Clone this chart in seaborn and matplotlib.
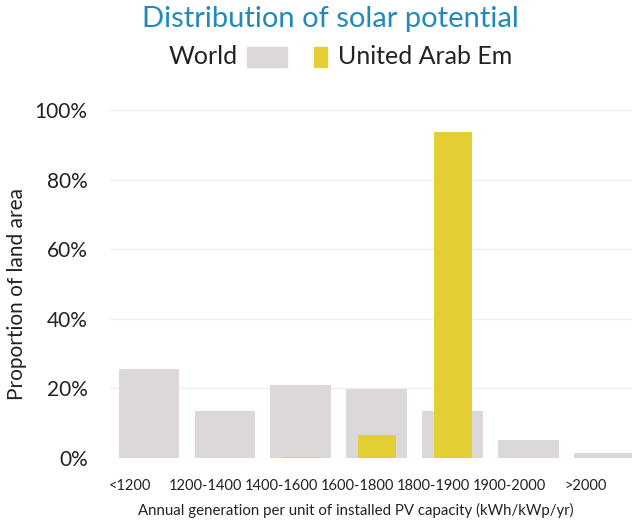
import numpy as np
import pandas as pd
import matplotlib
matplotlib.use("Agg")
import matplotlib.pyplot as plt
from matplotlib.patches import Rectangle
from matplotlib.ticker import PercentFormatter
from matplotlib.transforms import ScaledTranslation
import seaborn as sns

# Data
categories = ['<1200', '1200-1400', '1400-1600', '1600-1800', '1800-1900', '1900-2000', '>2000']
world = [25.6, 13.5, 21.0, 19.8, 13.4, 5.2, 1.4]
uae = [0.0, 0.0, 0.3, 6.6, 93.7, 0.0, 0.0]

df = pd.DataFrame({'bin': categories, 'World': world, 'UAE': uae})

sns.set_style('white')
plt.rcParams['font.family'] = ['Lato', 'DejaVu Sans']

grey = '#ddd8d8'
yellow = '#e3cf33'
text_col = '#222222'

fig = plt.figure(figsize=(6.32, 5.22), dpi=100)
ax = fig.add_axes([0.174, 0.1226, 0.826, 0.6667])

sns.barplot(data=df, x='bin', y='World', color=grey, width=0.795, linewidth=0,
            saturation=1, ax=ax, zorder=2)
sns.barplot(data=df, x='bin', y='UAE', color=yellow, width=0.5, linewidth=0,
            saturation=1, ax=ax, zorder=3)

ax.set_xlim(-0.51, 6.36)
ax.set_ylim(0, 100)
ax.set_yticks(np.arange(0, 101, 20))
ax.yaxis.set_major_formatter(PercentFormatter(decimals=0))
ax.grid(axis='y', color='#eeeeee', linewidth=1, zorder=0)
ax.set_axisbelow(True)
for s in ax.spines.values():
    s.set_visible(False)
ax.tick_params(axis='y', length=0, pad=16, labelsize=15, labelcolor=text_col)
ax.tick_params(axis='x', length=0, pad=15, labelsize=10.5, labelcolor=text_col)
# x labels sit a bit left of the bar centres in the original
for lab in ax.get_xticklabels():
    lab.set_transform(lab.get_transform() + ScaledTranslation(-0.19, 0, fig.dpi_scale_trans))

ax.set_ylabel('Proportion of land area', fontsize=15, color=text_col)
ax.yaxis.set_label_coords(-0.159, 0.471)
ax.set_xlabel('Annual generation per unit of installed PV capacity (kWh/kWp/yr)',
              fontsize=10.8, color=text_col)
ax.xaxis.set_label_coords(0.471, -0.128)

# Title and legend
fig.text(0.522, 0.963, 'Distribution of solar potential', ha='center', va='center',
         fontsize=21, color='#2389b9')
fig.text(0.266, 0.891, 'World', ha='left', va='center', fontsize=18, color=text_col)
fig.patches.append(Rectangle((247 / 632, 1 - 67 / 522), 40 / 632, 20 / 522,
                             transform=fig.transFigure, color=grey, figure=fig))
fig.text(0.535, 0.891, 'United Arab Em', ha='left', va='center', fontsize=18, color=text_col)
fig.patches.append(Rectangle((314 / 632, 1 - 67 / 522), 13 / 632, 20 / 522,
                             transform=fig.transFigure, color=yellow, figure=fig))

fig.savefig('out.png', dpi=100)
